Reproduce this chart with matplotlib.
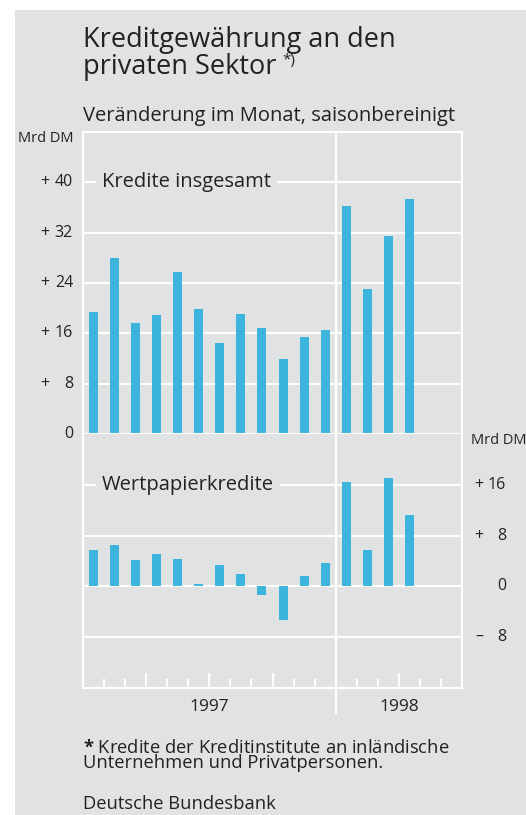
import numpy as np
import matplotlib
matplotlib.use("Agg")
import matplotlib.pyplot as plt
from matplotlib.lines import Line2D
from matplotlib.patches import Rectangle

# data, Jan 1997 .. Apr 1998
months = ["Jan 97", "Feb 97", "Mar 97", "Apr 97", "May 97", "Jun 97",
          "Jul 97", "Aug 97", "Sep 97", "Oct 97", "Nov 97", "Dec 97",
          "Jan 98", "Feb 98", "Mar 98", "Apr 98"]
kredite_insgesamt = [19.4, 28.0, 17.7, 18.9, 25.8, 19.8, 14.5, 19.0, 16.8, 11.9, 15.4, 16.5,
                     36.2, 23.1, 31.4, 37.3]
wertpapierkredite = [5.8, 6.5, 4.1, 5.1, 4.3, 0.3, 3.3, 1.9, -1.3, -5.3, 1.6, 3.7,
                     16.5, 5.8, 17.1, 11.3]

upper_ticks = [0, 8, 16, 24, 32, 40]
upper_labels = [("", "0"), ("+", "8"), ("+", "16"), ("+", "24"), ("+", "32"), ("+", "40")]
lower_ticks = [-8, 0, 8, 16]
lower_labels = [("\u2013", "8"), ("", "0"), ("+", "8"), ("+", "16")]
years = ["1997", "1998"]

BG = "#e1e2e4"
BAR = "#3cb4dc"
TXT = "#222222"
W, H = 526, 815

plt.rcParams['font.family'] = ['Open Sans', 'DejaVu Sans']
plt.rcParams['text.color'] = TXT
plt.rcParams['mathtext.fontset'] = 'custom'
plt.rcParams['mathtext.bf'] = 'Open Sans:bold'
plt.rcParams['mathtext.rm'] = 'Open Sans'


def fx(px):
    return px / W


def fy(py):
    return 1 - py / H


fig = plt.figure(figsize=(W / 100, H / 100), dpi=100)
fig.patch.set_facecolor("white")
fig.patches.append(Rectangle((fx(15), 0), 1 - fx(15), fy(10), transform=fig.transFigure,
                             facecolor=BG, edgecolor="none", zorder=-10))

ax1 = fig.add_axes([fx(83), fy(434), fx(462) - fx(83), fy(132) - fy(434)])
ax2 = fig.add_axes([fx(83), fy(688), fx(462) - fx(83), fy(434) - fy(688)])

x = np.arange(len(months)) + 0.5
nmonths = 18

for ax in (ax1, ax2):
    ax.set_facecolor(BG)
    ax.set_xlim(0, nmonths)
    for s in ax.spines.values():
        s.set_color("white")
        s.set_linewidth(1.5)
    ax.set_yticks([])
    ax.set_xticks([])
    ax.axvline(12, color="white", lw=1.5, zorder=1)

ax1.set_ylim(0, 48)
ax2.set_ylim(-16, 24)
ax2.spines["top"].set_visible(False)

for t in [8, 16, 24, 32, 40]:
    ax1.axhline(t, color="white", lw=1.5, zorder=1)
for t in lower_ticks:
    ax2.axhline(t, color="white", lw=1.5, zorder=1)

ax1.bar(x, kredite_insgesamt, width=0.43, color=BAR, zorder=2)
ax2.bar(x, wertpapierkredite, width=0.43, color=BAR, zorder=2)

# panel labels sit on top of the gridline
ax1.text(0.9, 40, "Kredite insgesamt", fontsize=14.5, va="center", ha="left", zorder=3,
         bbox=dict(boxstyle="square,pad=0.3", facecolor=BG, edgecolor="none"))
ax2.text(0.9, 16, "Wertpapierkredite", fontsize=14.5, va="center", ha="left", zorder=3,
         bbox=dict(boxstyle="square,pad=0.3", facecolor=BG, edgecolor="none"))

# y labels, left for upper panel, right for lower panel
for t, (sgn, num) in zip(upper_ticks, upper_labels):
    yy = ax1.transData.transform((0, t))[1] / H
    fig.text(fx(45), yy, sgn, fontsize=11.5, ha="center", va="center")
    fig.text(fx(73), yy, num, fontsize=11.5, ha="right", va="center")
for t, (sgn, num) in zip(lower_ticks, lower_labels):
    yy = ax2.transData.transform((0, t))[1] / H
    fig.text(fx(479), yy, sgn, fontsize=11.5, ha="center", va="center")
    fig.text(fx(506), yy, num, fontsize=11.5, ha="right", va="center")
fig.text(fx(73), fy(139), "Mrd DM", fontsize=10.5, ha="right", va="center")
fig.text(fx(471), fy(441), "Mrd DM", fontsize=10.5, ha="left", va="center")

# month ticks on the bottom axis
for m in range(1, nmonths):
    if m == 12:
        continue
    ln = 0.055 if m % 3 == 0 else 0.033
    ax2.add_line(Line2D([m, m], [0, ln], transform=ax2.get_xaxis_transform(),
                        color="white", lw=1.5, zorder=1))
ax2.add_line(Line2D([12, 12], [-0.1, 0], transform=ax2.get_xaxis_transform(),
                    color="white", lw=1.5, clip_on=False))

ax2.text(6, -0.075, years[0], transform=ax2.get_xaxis_transform(), fontsize=12.5,
         ha="center", va="center")
ax2.text(15, -0.075, years[1], transform=ax2.get_xaxis_transform(), fontsize=12.5,
         ha="center", va="center")

# title block
fig.text(fx(83), fy(47), "Kreditgewährung an den", fontsize=19.5, va="baseline")
t2 = fig.text(fx(83), fy(74), "privaten Sektor", fontsize=19.5, va="baseline")
fig.canvas.draw()
ext = t2.get_window_extent()
fig.text(fx(ext.x1 + 6), fy(64), "*)", fontsize=11, va="baseline")
fig.text(fx(83), fy(121), "Veränderung im Monat, saisonbereinigt", fontsize=14.5, va="baseline")

# footnote (baseline = last line)
fig.text(fx(83), fy(768),
         "$\\mathbf{*}$ Kredite der Kreditinstitute an inländische\nUnternehmen und Privatpersonen.",
         fontsize=13.2, va="baseline", linespacing=0.8)
fig.text(fx(83), fy(809), "Deutsche Bundesbank", fontsize=13.2, va="baseline")

fig.savefig("out.png", dpi=100, facecolor=fig.get_facecolor())
